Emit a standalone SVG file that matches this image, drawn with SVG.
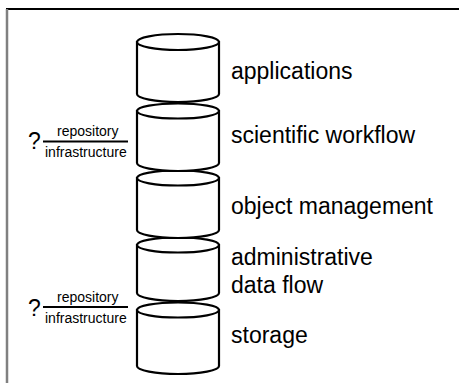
<svg xmlns="http://www.w3.org/2000/svg" width="459" height="383" viewBox="0 0 459 383">
  <style>
    .cyl { fill: #ffffff; stroke: #000000; stroke-width: 2.2; }
    .big { font-family: "Liberation Sans", Arial, sans-serif; font-size: 23px; fill: #000000; }
    .small { font-family: "Liberation Sans", Arial, sans-serif; font-size: 14px; fill: #000000; }
    .bar { stroke: #000000; stroke-width: 2; }
  </style>
  <rect width="459" height="383" fill="#ffffff"/>
  <!-- frame -->
  <line x1="6" y1="9" x2="459" y2="9" stroke="#000000" stroke-width="2"/>
  <line x1="7" y1="9" x2="7" y2="383" stroke="#808080" stroke-width="2.5"/>

  <!-- layer stack, drawn bottom-up so each upper drum rests on the one below -->
  <g id="storage">
    <path class="cyl" d="M137,310 L137,366 A41,8 0 0 0 219,366 L219,310 Z"/>
    <ellipse class="cyl" cx="178" cy="310" rx="41" ry="7.5"/>
    <text class="big" x="231" y="343">storage</text>
  </g>
  <g id="administrative-data-flow">
    <path class="cyl" d="M137,245 L137,293 A41,8 0 0 0 219,293 L219,245 Z"/>
    <ellipse class="cyl" cx="178" cy="245" rx="41" ry="7.5"/>
    <text class="big" x="231" y="265">administrative</text>
    <text class="big" x="231" y="293">data flow</text>
  </g>
  <g id="object-management">
    <path class="cyl" d="M137,178 L137,230 A41,8 0 0 0 219,230 L219,178 Z"/>
    <ellipse class="cyl" cx="178" cy="178" rx="41" ry="7.5"/>
    <text class="big" x="231" y="214">object management</text>
  </g>
  <g id="scientific-workflow">
    <path class="cyl" d="M137,111 L137,163 A41,8 0 0 0 219,163 L219,111 Z"/>
    <ellipse class="cyl" cx="178" cy="111" rx="41" ry="7.5"/>
    <text class="big" x="231" y="143">scientific workflow</text>
  </g>
  <g id="applications">
    <path class="cyl" d="M137,42 L137,94 A41,8 0 0 0 219,94 L219,42 Z"/>
    <ellipse class="cyl" cx="178" cy="42" rx="41" ry="8"/>
    <text class="big" x="231" y="79">applications</text>
  </g>

  <!-- open questions: repository / infrastructure boundary -->
  <g id="boundary-upper">
    <text class="big" x="28" y="149">?</text>
    <text class="small" x="57" y="136">repository</text>
    <line class="bar" x1="43" y1="141.5" x2="128" y2="141.5"/>
    <text class="small" x="45" y="157">infrastructure</text>
  </g>
  <g id="boundary-lower">
    <text class="big" x="28" y="316">?</text>
    <text class="small" x="57" y="302">repository</text>
    <line class="bar" x1="43" y1="307" x2="128" y2="307"/>
    <text class="small" x="45" y="323">infrastructure</text>
  </g>
</svg>
